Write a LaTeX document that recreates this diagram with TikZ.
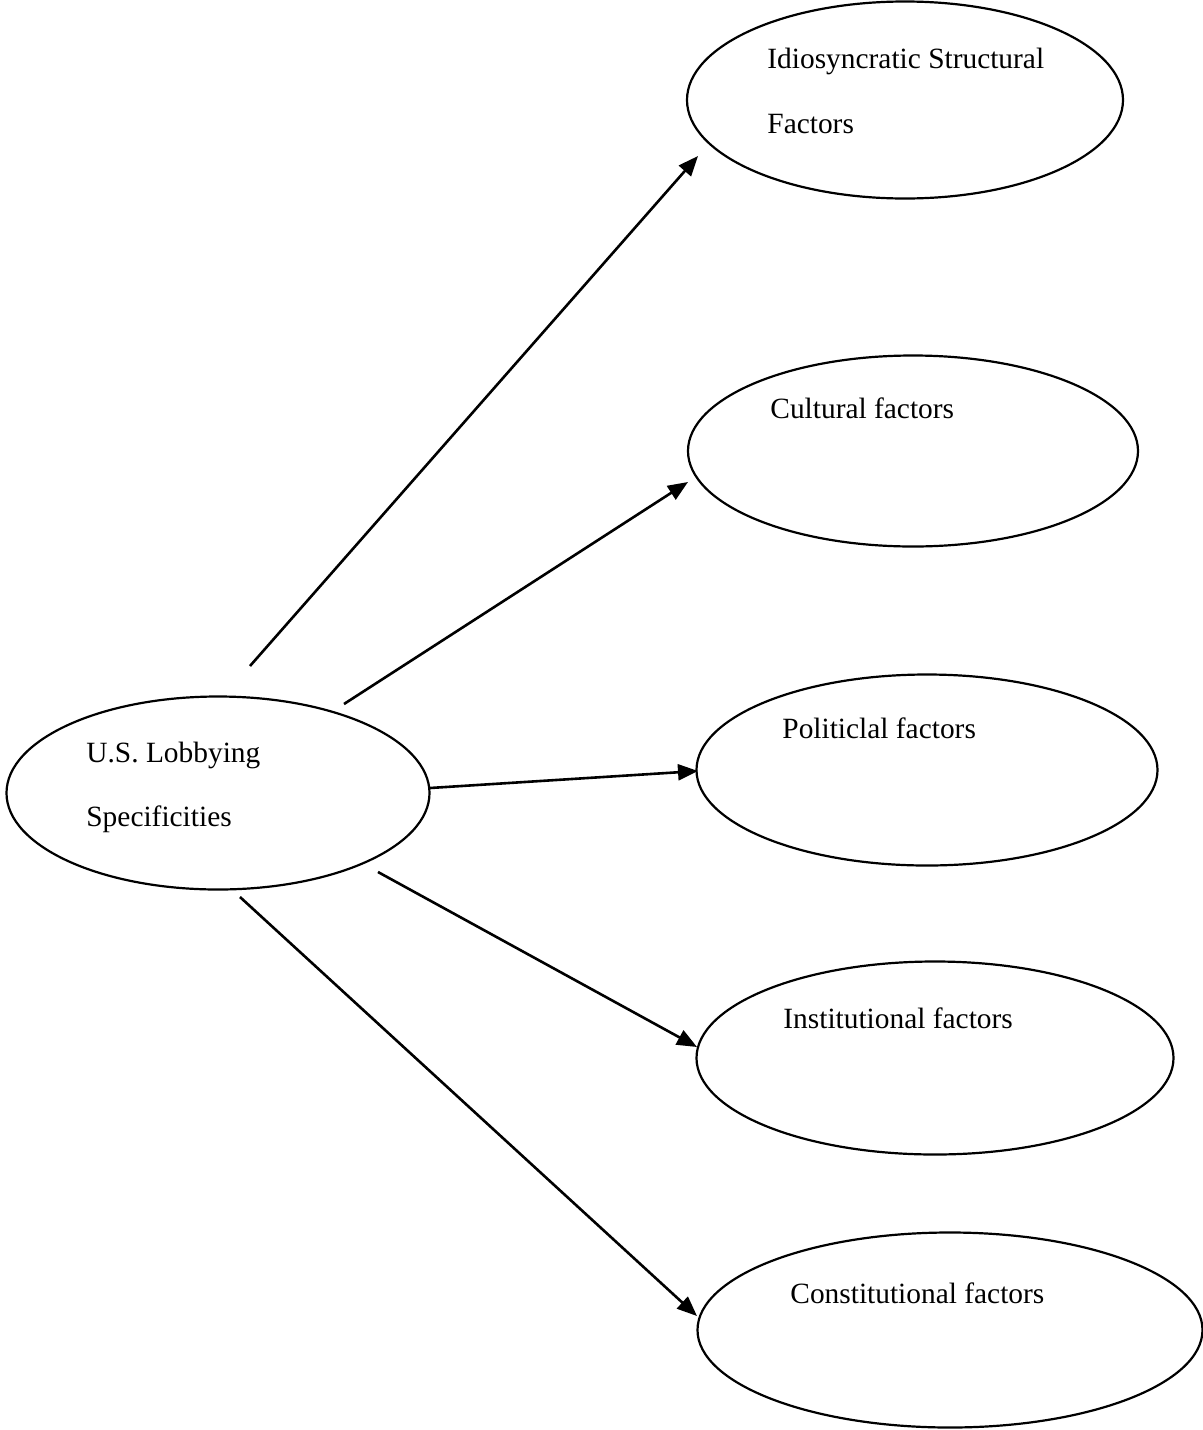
\documentclass[tikz,border=0pt]{standalone}
\usepackage{fontspec}
\setmainfont{Liberation Serif}
\usetikzlibrary{shapes.geometric,arrows.meta}
\begin{document}
\begin{tikzpicture}[x=0.5pt,y=-0.5pt,
  factor/.style={draw,line width=1.1pt,ellipse,inner sep=0pt},
  caption/.style={anchor=base west,inner sep=0pt,font=\fontsize{14.7pt}{17pt}\selectfont},
  arr/.style={line width=1.3pt,-{Triangle[length=10pt,width=8pt]}}]
\useasboundingbox (0,0) rectangle (1203,1430);

% ellipses
\node[factor,minimum width=218pt,minimum height=98.5pt] (idio) at (905,100) {};
\node[factor,minimum width=225pt,minimum height=95.5pt] (cult) at (913,451) {};
\node[factor,minimum width=230.5pt,minimum height=95.5pt] (poli) at (927,770) {};
\node[factor,minimum width=238.5pt,minimum height=96.5pt] (inst) at (935,1058) {};
\node[factor,minimum width=252.5pt,minimum height=97.5pt] (cons) at (950,1330) {};
\node[factor,minimum width=211.5pt,minimum height=96.5pt] (usl) at (218,793) {};

% texts
\node[caption] (tidio1) at (767,68) {Idiosyncratic Structural};
\node[caption] (tidio2) at (767,133) {Factors};
\node[caption] (tcult) at (770,418) {Cultural factors};
\node[caption] (tpoli) at (782,738) {Politiclal factors};
\node[caption] (tinst) at (783,1028) {Institutional factors};
\node[caption] (tcons) at (790,1303) {Constitutional factors};
\node[caption] (tusl1) at (86,762) {U.S. Lobbying};
\node[caption] (tusl2) at (86,826) {Specificities};

% arrow ends
\coordinate (s1) at (250,666);
\coordinate (s2) at (344,704);
\coordinate (s3) at (430,788);
\coordinate (s4) at (378,872);
\coordinate (s5) at (240,897);
\coordinate (t1) at (698,156);
\coordinate (t2) at (688,482);
\coordinate (t3) at (698,771);
\coordinate (t4) at (697,1047);
\coordinate (t5) at (697,1316);

\draw[arr] (s1) -- (t1);
\draw[arr] (s2) -- (t2);
\draw[arr] (s3) -- (t3);
\draw[arr] (s4) -- (t4);
\draw[arr] (s5) -- (t5);
\end{tikzpicture}
\end{document}
